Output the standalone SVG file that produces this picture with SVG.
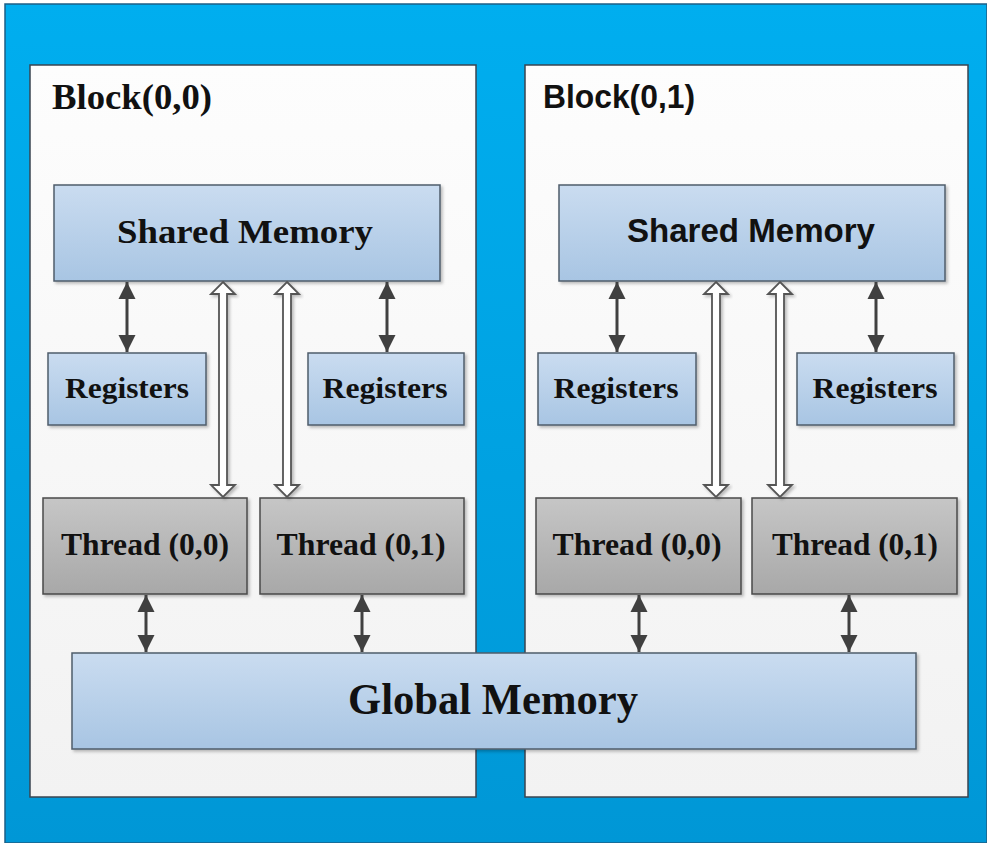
<svg xmlns="http://www.w3.org/2000/svg" width="987" height="843" viewBox="0 0 987 843">
<style>
.blk{fill:url(#gBlock);stroke:#3a4450;stroke-width:1.5}
.blue{fill:url(#gBlue);stroke:#4f5d6b;stroke-width:1.5;filter:url(#sh)}
.gray{fill:url(#gGray);stroke:#4a4a4a;stroke-width:1.5;filter:url(#sh)}
.serif{font-family:"Liberation Serif","Times New Roman",serif;font-weight:bold;fill:#111;text-anchor:middle}
.sans{font-family:"Liberation Sans",Arial,sans-serif;font-weight:bold;fill:#111}
.dark{stroke:#404040;stroke-width:3;fill:none;marker-start:url(#ah);marker-end:url(#ah)}
.hollow{fill:#fff;stroke:#555;stroke-width:1.8;filter:url(#sh)}
</style>
<defs>
<linearGradient id="gBg" x1="0" y1="0" x2="0" y2="1"><stop offset="0" stop-color="#00aeef"/><stop offset="1" stop-color="#0097d6"/></linearGradient>
<linearGradient id="gBlock" x1="0" y1="0" x2="0" y2="1"><stop offset="0" stop-color="#fdfdfd"/><stop offset="1" stop-color="#f2f2f2"/></linearGradient>
<linearGradient id="gBlue" x1="0" y1="0" x2="0" y2="1"><stop offset="0" stop-color="#cadcf0"/><stop offset="1" stop-color="#a8c5e3"/></linearGradient>
<linearGradient id="gGray" x1="0" y1="0" x2="0" y2="1"><stop offset="0" stop-color="#c6c6c6"/><stop offset="1" stop-color="#a8a8a8"/></linearGradient>
<filter id="sh" x="-10%" y="-10%" width="130%" height="130%"><feDropShadow dx="2" dy="2" stdDeviation="1.5" flood-color="#000" flood-opacity="0.25"/></filter>
<marker id="ah" markerUnits="userSpaceOnUse" markerWidth="20" markerHeight="20" viewBox="0 0 20 20" refX="17" refY="10" orient="auto-start-reverse"><path d="M0,1.5 L17,10 L0,18.5 Z" fill="#404040"/></marker>
</defs>
<rect id="background" x="5" y="4" width="982" height="839" fill="url(#gBg)" stroke="#1d5f86" stroke-width="1.5"/>
<g id="block00"><rect class="blk" x="30" y="65" width="446" height="732"/><text class="serif" x="52" y="109" font-size="36" style="text-anchor:start" textLength="160" lengthAdjust="spacingAndGlyphs">Block(0,0)</text></g>
<g id="block01"><rect class="blk" x="525" y="65" width="443" height="732"/><text class="sans" x="543" y="108" font-size="33" textLength="152" lengthAdjust="spacingAndGlyphs">Block(0,1)</text></g>
<g id="shared00"><rect class="blue" x="54" y="185" width="386" height="96"/><text class="serif" x="245" y="243" font-size="34" textLength="256" lengthAdjust="spacingAndGlyphs">Shared Memory</text></g>
<g id="shared01"><rect class="blue" x="559" y="185" width="386" height="96"/><text class="sans" x="751" y="242" font-size="34" style="text-anchor:middle" textLength="248" lengthAdjust="spacingAndGlyphs">Shared Memory</text></g>
<g id="reg00a"><rect class="blue" x="48" y="353" width="158" height="72"/><text class="serif" x="127" y="398" font-size="29" textLength="124" lengthAdjust="spacingAndGlyphs">Registers</text></g>
<g id="reg00b"><rect class="blue" x="308" y="353" width="156" height="72"/><text class="serif" x="385" y="398" font-size="29" textLength="125" lengthAdjust="spacingAndGlyphs">Registers</text></g>
<g id="reg01a"><rect class="blue" x="538" y="353" width="158" height="72"/><text class="serif" x="616" y="398" font-size="29" textLength="125" lengthAdjust="spacingAndGlyphs">Registers</text></g>
<g id="reg01b"><rect class="blue" x="797" y="353" width="157" height="72"/><text class="serif" x="875" y="398" font-size="29" textLength="125" lengthAdjust="spacingAndGlyphs">Registers</text></g>
<g id="thread00a"><rect class="gray" x="43" y="498" width="204" height="96"/><text class="serif" x="145" y="555" font-size="31" textLength="168" lengthAdjust="spacingAndGlyphs">Thread (0,0)</text></g>
<g id="thread00b"><rect class="gray" x="260" y="498" width="204" height="96"/><text class="serif" x="361" y="555" font-size="31" textLength="169" lengthAdjust="spacingAndGlyphs">Thread (0,1)</text></g>
<g id="thread01a"><rect class="gray" x="536" y="498" width="205" height="96"/><text class="serif" x="637" y="555" font-size="31" textLength="169" lengthAdjust="spacingAndGlyphs">Thread (0,0)</text></g>
<g id="thread01b"><rect class="gray" x="752" y="498" width="205" height="96"/><text class="serif" x="855" y="555" font-size="31" textLength="166" lengthAdjust="spacingAndGlyphs">Thread (0,1)</text></g>
<g id="global"><rect class="blue" x="72" y="653" width="844" height="96"/><text class="serif" x="493" y="714" font-size="45" textLength="290" lengthAdjust="spacingAndGlyphs">Global Memory</text></g>
<g id="connectors">
<line class="dark" x1="127" y1="282" x2="127" y2="352"/>
<line class="dark" x1="387" y1="282" x2="387" y2="352"/>
<line class="dark" x1="617" y1="282" x2="617" y2="352"/>
<line class="dark" x1="876" y1="282" x2="876" y2="352"/>
<line class="dark" x1="146" y1="595" x2="146" y2="652"/>
<line class="dark" x1="362" y1="595" x2="362" y2="652"/>
<line class="dark" x1="639" y1="595" x2="639" y2="652"/>
<line class="dark" x1="849" y1="595" x2="849" y2="652"/>
<path class="hollow" d="M223,282 L235,294 L227,294 L227,485 L235,485 L223,497 L211,485 L219,485 L219,294 L211,294 Z"/>
<path class="hollow" d="M287,282 L299,294 L291,294 L291,485 L299,485 L287,497 L275,485 L283,485 L283,294 L275,294 Z"/>
<path class="hollow" d="M716,282 L728,294 L720,294 L720,485 L728,485 L716,497 L704,485 L712,485 L712,294 L704,294 Z"/>
<path class="hollow" d="M780,282 L792,294 L784,294 L784,485 L792,485 L780,497 L768,485 L776,485 L776,294 L768,294 Z"/>
</g>
</svg>
